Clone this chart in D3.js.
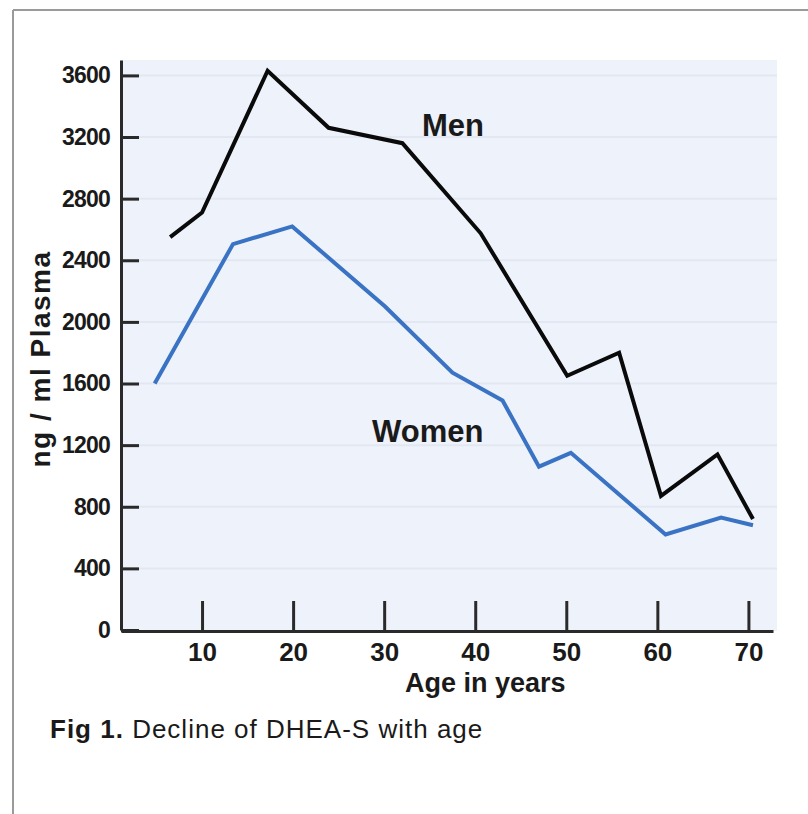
<!DOCTYPE html>
<html>
<head>
<meta charset="utf-8">
<script src="https://cdn.jsdelivr.net/npm/d3@7"></script>
<style>
  body { margin: 0; background: #fff; }
  text { font-family: "Liberation Sans", Arial, Helvetica, sans-serif; }
</style>
</head>
<body>
<div id="chart"></div>
<script>
// values
const menAges = [6.5, 10, 17.2, 23.9, 32, 40.6, 50.1, 55.8, 60.4, 66.6, 70.5];
const menValues = [2550, 2710, 3630, 3260, 3160, 2575, 1650, 1800, 870, 1140, 720];
const womenAges = [4.8, 13.4, 19.9, 30.1, 37.5, 43, 47, 50.5, 60.9, 67, 70.5];
const womenValues = [1600, 2505, 2620, 2100, 1670, 1490, 1060, 1150, 620, 730, 680];
const yTicks = [0, 400, 800, 1200, 1600, 2000, 2400, 2800, 3200, 3600];
const xTicks = [10, 20, 30, 40, 50, 60, 70];

const width = 808;
const height = 814;

const svg = d3.select("#chart").append("svg")
    .attr("width", width)
    .attr("height", height);

// frame (only top & left edges show in the scan)
svg.append("line").attr("x1", 13).attr("x2", width).attr("y1", 10).attr("y2", 10)
    .attr("stroke", "#9a9a9a").attr("stroke-width", 2);
svg.append("line").attr("x1", 13).attr("x2", 13).attr("y1", 10).attr("y2", height)
    .attr("stroke", "#9a9a9a").attr("stroke-width", 2);

const x = d3.scaleLinear().domain([1.1, 72.7]).range([121, 773]);
const y = d3.scaleLinear().domain([0, 3700]).range([630, 60]);

// plot background
svg.append("rect")
    .attr("x", 121).attr("y", 60)
    .attr("width", 777 - 121).attr("height", 631 - 60)
    .attr("fill", "#eef2fa");

// faint grid bands
svg.selectAll("line.grid")
    .data(yTicks.slice(1))
    .join("line")
    .attr("class", "grid")
    .attr("x1", 121).attr("x2", 777)
    .attr("y1", d => y(d)).attr("y2", d => y(d))
    .attr("stroke", "#e2e7f1")
    .attr("stroke-width", 2);

// axes
const yAxis = d3.axisLeft(y).tickValues(yTicks).tickFormat(d3.format("d"))
    .tickSize(-18).tickSizeOuter(0).tickPadding(11);
const xAxis = d3.axisBottom(x).tickValues(xTicks).tickFormat(d3.format("d"))
    .tickSize(-30).tickSizeOuter(0).tickPadding(12);

const yG = svg.append("g").attr("transform", "translate(121,0)").call(yAxis);
const xG = svg.append("g").attr("transform", "translate(0,631)").call(xAxis);

[yG, xG].forEach(g => {
    g.select(".domain").attr("stroke", "#2a2a2a").attr("stroke-width", 3);
    g.selectAll(".tick line").attr("stroke", "#2a2a2a").attr("stroke-width", 3);
    g.selectAll(".tick text")
        .attr("fill", "#1a1a1a")
        .attr("font-family", "'Liberation Sans', Arial, sans-serif")
        .attr("font-weight", "bold");
});
yG.selectAll(".tick text").attr("font-size", 23).attr("letter-spacing", -0.8);
xG.selectAll(".tick text").attr("font-size", 26);

// lines
const line = d3.line().x(d => x(d[0])).y(d => y(d[1]));

svg.append("path")
    .datum(d3.zip(womenAges, womenValues))
    .attr("fill", "none")
    .attr("stroke", "#3a73c4")
    .attr("stroke-width", 4)
    .attr("stroke-linejoin", "miter")
    .attr("d", line);

svg.append("path")
    .datum(d3.zip(menAges, menValues))
    .attr("fill", "none")
    .attr("stroke", "#0a0a0a")
    .attr("stroke-width", 4)
    .attr("stroke-linejoin", "miter")
    .attr("d", line);

// series labels
svg.append("text").text("Men")
    .attr("x", 422).attr("y", 136)
    .attr("font-size", 31).attr("font-weight", "bold").attr("fill", "#1a1a1a");

svg.append("text").text("Women")
    .attr("x", 372).attr("y", 442)
    .attr("font-size", 31).attr("font-weight", "bold").attr("fill", "#1a1a1a");

// axis titles
svg.append("text").text("Age in years")
    .attr("x", 405).attr("y", 692)
    .attr("font-size", 27).attr("font-weight", "bold").attr("fill", "#1a1a1a");

svg.append("text").text("ng / ml Plasma")
    .attr("transform", "translate(50,359) rotate(-90)")
    .attr("text-anchor", "middle")
    .attr("font-size", 28).attr("letter-spacing", 1.5)
    .attr("font-weight", "bold").attr("fill", "#1a1a1a");

// caption
const caption = svg.append("text")
    .attr("x", 50).attr("y", 738)
    .attr("font-size", 26).attr("letter-spacing", 1).attr("fill", "#1a1a1a");
caption.append("tspan").attr("font-weight", "bold").text("Fig 1.");
caption.append("tspan").text(" Decline of DHEA-S with age");
</script>
</body>
</html>
